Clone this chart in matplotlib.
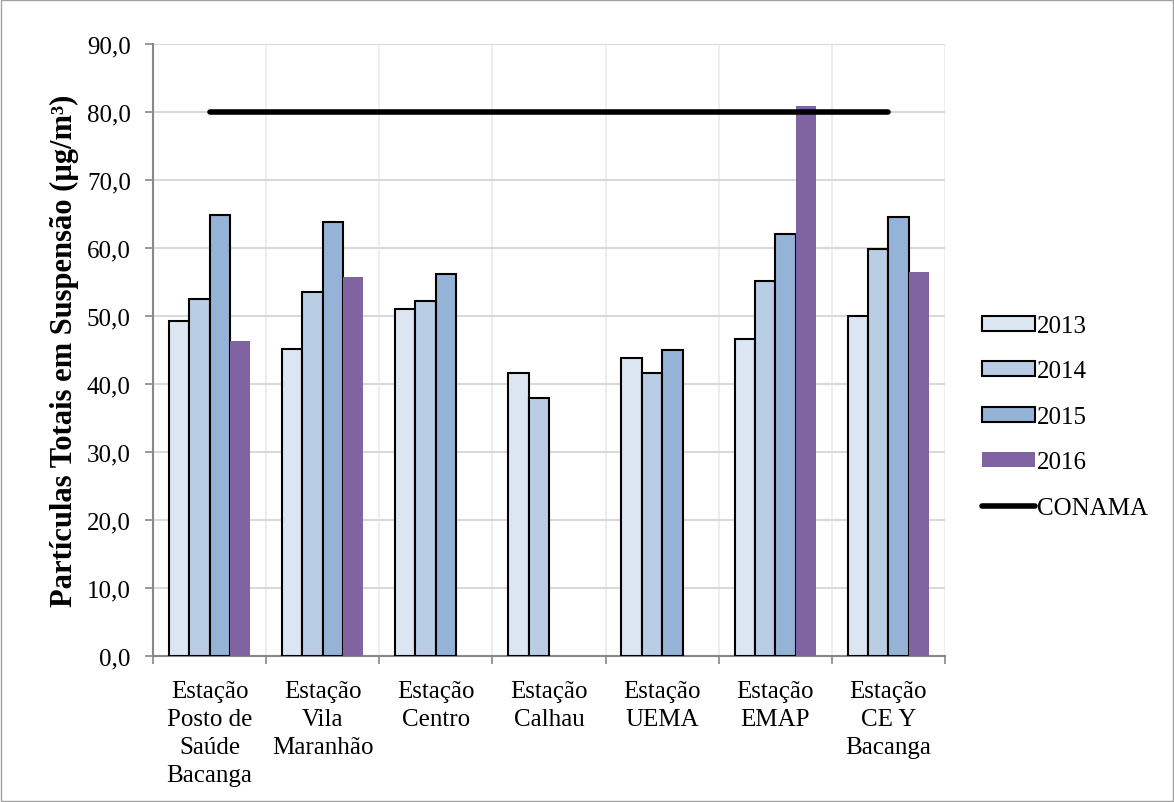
import numpy as np
from matplotlib import pyplot as plt
from matplotlib.patches import Rectangle

plt.rcParams['font.family'] = ['Liberation Serif', 'DejaVu Serif']

estacoes = ["Estação\nPosto de\nSaúde\nBacanga", "Estação\nVila\nMaranhão",
            "Estação\nCentro", "Estação\nCalhau", "Estação\nUEMA",
            "Estação\nEMAP", "Estação\nCE Y\nBacanga"]
anos = ["2013", "2014", "2015", "2016"]
v2013 = [49.3, 45.2, 51.0, 41.6, 43.8, 46.6, 50.0]
v2014 = [52.5, 53.5, 52.2, 38.0, 41.6, 55.1, 59.8]
v2015 = [64.9, 63.8, 56.2, np.nan, 45.0, 62.0, 64.5]
v2016 = [46.3, 55.7, np.nan, np.nan, np.nan, 80.9, 56.4]
conama = [80.0] * 7

cores = ["#DCE6F2", "#B9CDE5", "#95B3D7", "#8064A2"]
bordas = ["black", "black", "black", "none"]

fig = plt.figure(figsize=(11.74, 8.03), dpi=100)
ax = fig.add_axes([153/1174, 1 - 657/803, (945-153)/1174, (657-45)/803])

x = np.arange(len(estacoes))
w = 0.18
handles = []
for i, (vals, ano) in enumerate(zip([v2013, v2014, v2015, v2016], anos)):
    b = ax.bar(x + (i - 1.5) * w, vals, w, color=cores[i], edgecolor=bordas[i],
               linewidth=1.5 if bordas[i] != "none" else 0, label=ano, zorder=3)
    handles.append(b)
linha, = ax.plot(x, conama, color="black", linewidth=4, solid_capstyle="round",
                 label="CONAMA", zorder=4)
handles.append(linha)

ax.set_xlim(-0.5, len(estacoes) - 0.5)
ax.set_ylim(0, 90)
ax.set_yticks(np.arange(0, 91, 10))
ax.set_yticklabels([f"{v:.1f}".replace(".", ",") for v in np.arange(0, 91, 10)],
                   fontsize=18)
ax.set_xticks(x)
ax.set_xticklabels(estacoes, fontsize=18, linespacing=1.37)
ax.tick_params(axis="x", length=0, pad=17)
ax.set_xticks(np.arange(-0.5, len(estacoes)), minor=True)
ax.tick_params(axis="x", which="minor", length=6, color="#888888", width=1.2)
ax.tick_params(axis="y", length=6, color="#888888", width=1.2, pad=10)

ax.grid(axis="y", color="#D9D9D9", linewidth=1.5, zorder=0)
ax.grid(axis="x", which="minor", color="#EBEBEB", linewidth=1.2, zorder=0)
ax.set_axisbelow(True)
for s in ["top", "right"]:
    ax.spines[s].set_visible(False)
for s in ["left", "bottom"]:
    ax.spines[s].set_color("#888888")
    ax.spines[s].set_linewidth(1.5)

ax.set_ylabel("Partículas Totais em Suspensão (µg/m³)", fontsize=22,
              fontweight="bold", labelpad=6)

fig.legend(handles=handles, labels=anos + ["CONAMA"], loc="center left",
           bbox_to_anchor=(982/1174, 1 - 418/803), bbox_transform=fig.transFigure,
           frameon=False, fontsize=18, handlelength=2.1, handleheight=0.55,
           labelspacing=0.94, handletextpad=0.1, borderpad=0, borderaxespad=0)

fig.patches.append(Rectangle((0.001, 0.001), 0.998, 0.998, transform=fig.transFigure,
                             fill=False, edgecolor="#A0A0A0", linewidth=1))

fig.savefig("out.png", dpi=100)
